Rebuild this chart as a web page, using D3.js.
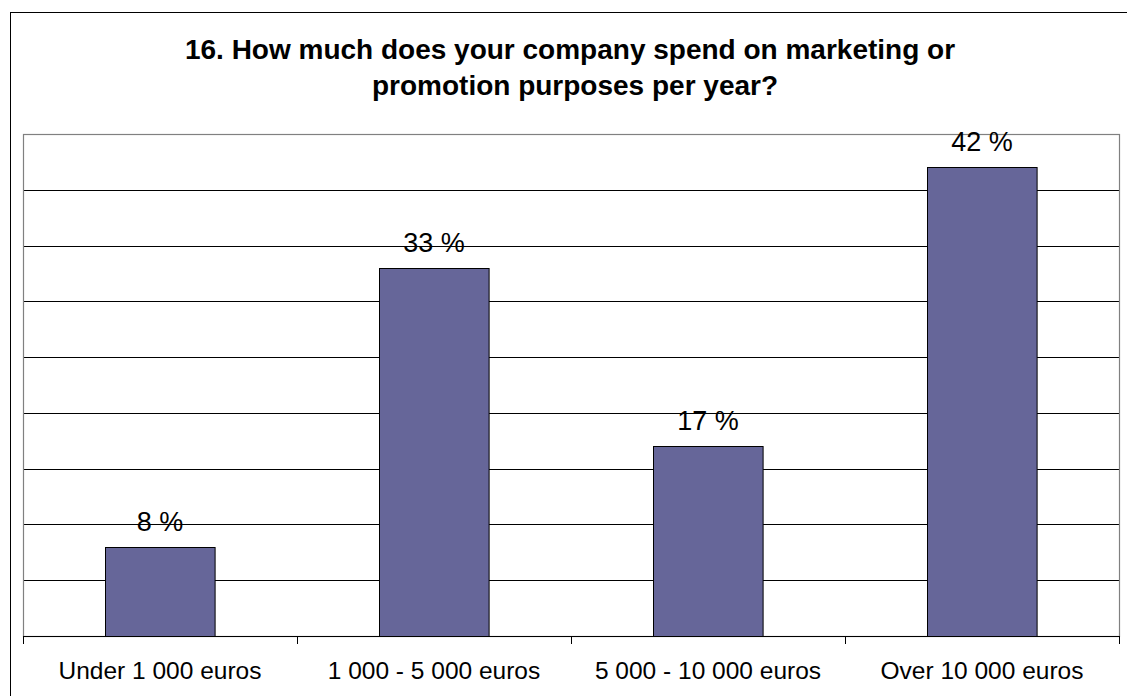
<!DOCTYPE html>
<html>
<head>
<meta charset="utf-8">
<script src="https://cdn.jsdelivr.net/npm/d3@7"></script>
<style>
  html, body { margin: 0; padding: 0; background: #fff; }
  svg { display: block; font-family: "Liberation Sans", Arial, sans-serif; }
</style>
</head>
<body>
<svg id="chart" width="1127" height="696"></svg>
<script>
// Survey answers and their shares (percent)
const categories = ["Under 1 000 euros", "1 000 - 5 000 euros", "5 000 - 10 000 euros", "Over 10 000 euros"];
const values = [8, 33, 17, 42];
const yTicks = [0, 5, 10, 15, 20, 25, 30, 35, 40, 45];
const titleLines = ["16. How much does your company spend on marketing or", "promotion purposes per year?"];

const svg = d3.select("#chart");
const plot = { left: 23, right: 1119, top: 134, bottom: 636 };

// Outer chart frame
svg.append("rect")
  .attr("x", 10.5).attr("y", 12.5)
  .attr("width", 1130).attr("height", 700)
  .attr("fill", "#fff").attr("stroke", "#000").attr("stroke-width", 1);

// Title (two centred lines)
const titleX = [570, 575];
svg.append("g").selectAll("text").data(titleLines).join("text")
  .attr("x", (d, i) => titleX[i]).attr("y", (d, i) => 59 + i * 36)
  .attr("text-anchor", "middle")
  .attr("font-size", 28).attr("font-weight", "bold")
  .text(d => d);

const x = d3.scaleBand().domain(categories).range([plot.left, plot.right]).paddingInner(0.6).paddingOuter(0.3);
const xBounds = d3.scalePoint().domain(d3.range(categories.length + 1)).range([plot.left, plot.right]);
const y = d3.scaleLinear().domain([0, 45]).range([plot.bottom, plot.top]);

// Horizontal gridlines
svg.append("g").selectAll("line").data(yTicks.slice(1, -1)).join("line")
  .attr("x1", plot.left).attr("x2", plot.right)
  .attr("y1", d => Math.round(y(d)) + 0.5).attr("y2", d => Math.round(y(d)) + 0.5)
  .attr("stroke", "#000").attr("stroke-width", 1);

// Plot area border (gray)
svg.append("rect")
  .attr("x", plot.left + 0.5).attr("y", plot.top + 0.5)
  .attr("width", plot.right - plot.left).attr("height", plot.bottom - plot.top)
  .attr("fill", "none").attr("stroke", "#808080").attr("stroke-width", 1.2);

// Bars
svg.append("g").selectAll("rect").data(values).join("rect")
  .attr("x", (d, i) => Math.round(x(categories[i])) + 0.5)
  .attr("y", d => Math.round(y(d)) + 0.5)
  .attr("width", x.bandwidth())
  .attr("height", d => Math.round(y(0)) - Math.round(y(d)))
  .attr("fill", "#666699").attr("stroke", "#000").attr("stroke-width", 1);

// Value labels
svg.append("g").selectAll("text").data(values).join("text")
  .attr("x", (d, i) => x(categories[i]) + x.bandwidth() / 2)
  .attr("y", d => y(d) - 16)
  .attr("text-anchor", "middle")
  .attr("font-size", 27)
  .text(d => d + " %");

// Category axis
const axisG = svg.append("g");
axisG.append("line")
  .attr("x1", plot.left).attr("x2", plot.right + 1)
  .attr("y1", plot.bottom + 0.5).attr("y2", plot.bottom + 0.5)
  .attr("stroke", "#000");
axisG.selectAll("line.tick").data(d3.range(categories.length + 1)).join("line")
  .attr("class", "tick")
  .attr("x1", d => Math.round(xBounds(d)) + 0.5).attr("x2", d => Math.round(xBounds(d)) + 0.5)
  .attr("y1", plot.bottom).attr("y2", plot.bottom + 8)
  .attr("stroke", "#000");
axisG.selectAll("text").data(categories).join("text")
  .attr("x", d => x(d) + x.bandwidth() / 2)
  .attr("y", 679)
  .attr("text-anchor", "middle")
  .attr("font-size", 24.5)
  .text(d => d);
</script>
</body>
</html>
